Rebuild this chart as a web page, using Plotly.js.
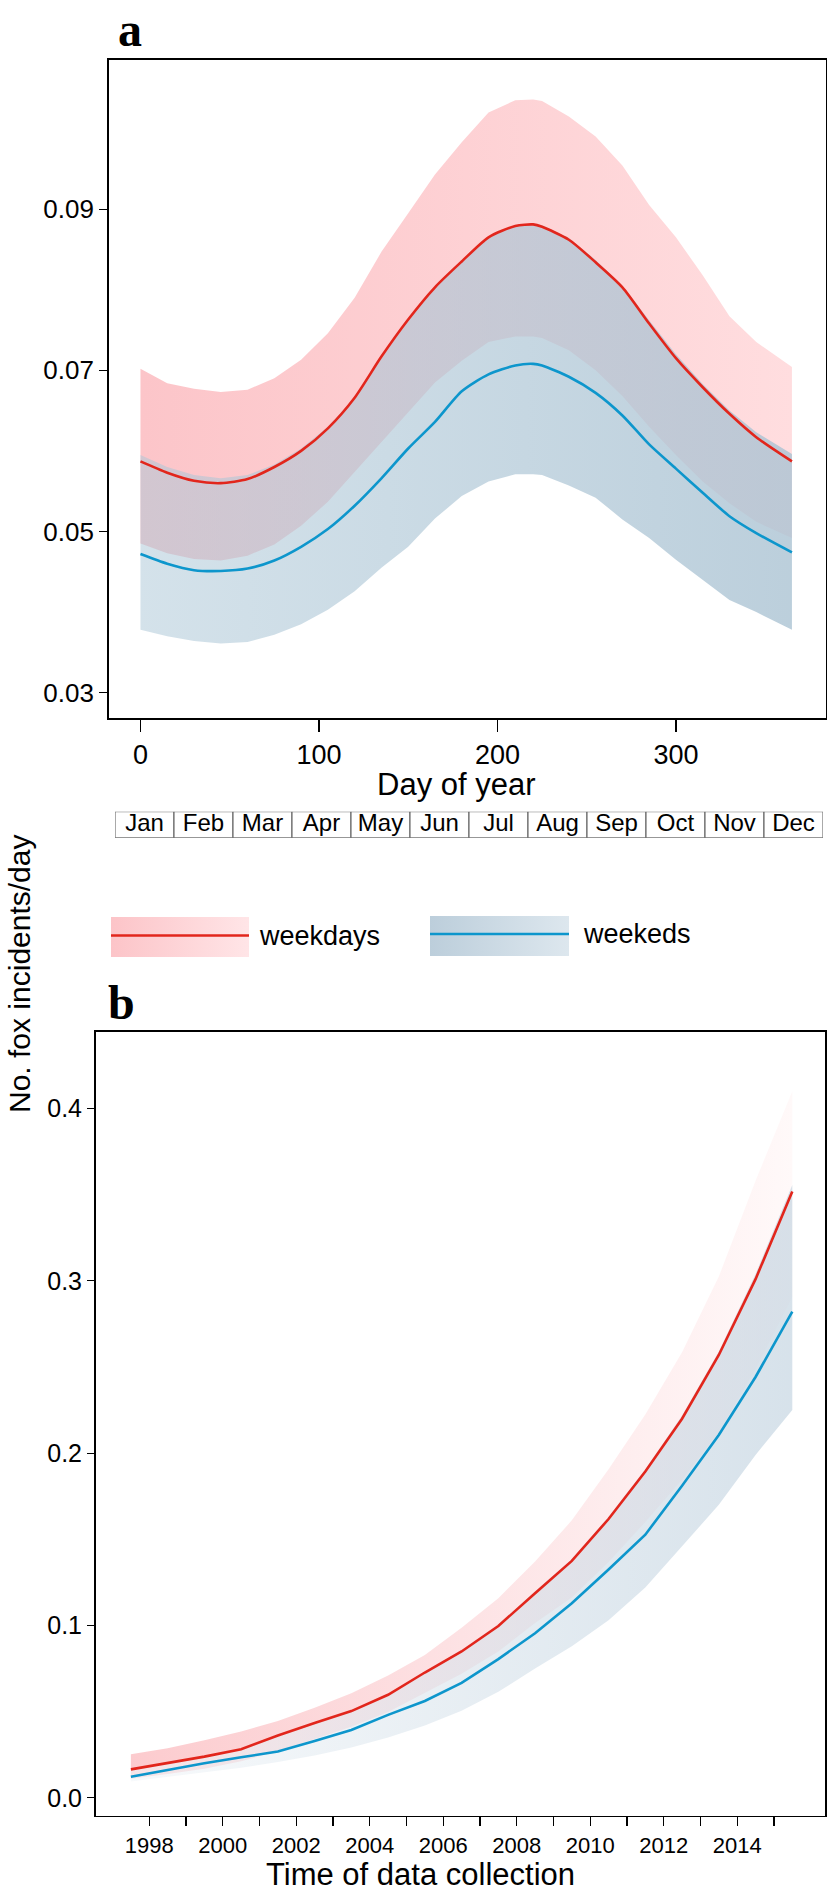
<!DOCTYPE html>
<html>
<head>
<meta charset="utf-8">
<script src="https://cdn.plot.ly/plotly-3.0.1.min.js"></script>
<style>html,body{margin:0;padding:0;background:#fff;}#chart{width:827px;height:1895px;}</style>
</head>
<body>
<div id="chart"></div>
<script>
// ---------- Panel a: seasonal pattern ----------
const days = [0,15,30,45,60,75,90,105,120,135,150,165,180,195,210,220,225,240,255,270,285,300,315,330,345,365];
const weekdaysMean  = [0.0587,0.0573,0.0563,0.0560,0.0565,0.0580,0.0600,0.0628,0.0666,0.0717,0.0763,0.0803,0.0835,0.0865,0.0879,0.0881,0.0878,0.0862,0.0834,0.0803,0.0758,0.0715,0.0679,0.0646,0.0617,0.0587];
const weekdaysUpper = [0.0702,0.0684,0.0677,0.0673,0.0676,0.0690,0.0713,0.0746,0.0790,0.0847,0.0895,0.0943,0.0983,0.1020,0.1035,0.1036,0.1034,0.1015,0.0990,0.0954,0.0905,0.0865,0.0818,0.0767,0.0735,0.0704];
const weekdaysLower = [0.0485,0.0473,0.0466,0.0464,0.0470,0.0484,0.0507,0.0537,0.0574,0.0612,0.0648,0.0685,0.0712,0.0735,0.0742,0.0742,0.0740,0.0725,0.0700,0.0668,0.0630,0.0595,0.0562,0.0535,0.0512,0.0492];
const weekedsMean   = [0.0472,0.0460,0.0452,0.0451,0.0454,0.0464,0.0481,0.0503,0.0532,0.0566,0.0603,0.0636,0.0674,0.0695,0.0706,0.0708,0.0706,0.0692,0.0672,0.0644,0.0608,0.0578,0.0548,0.0519,0.0498,0.0474];
const weekedsUpper  = [0.0595,0.0580,0.0570,0.0566,0.0570,0.0583,0.0603,0.0630,0.0666,0.0715,0.0762,0.0803,0.0835,0.0865,0.0880,0.0882,0.0880,0.0864,0.0837,0.0805,0.0762,0.0720,0.0683,0.0650,0.0623,0.0596];
const weekedsLower  = [0.0378,0.0370,0.0364,0.0361,0.0363,0.0372,0.0385,0.0403,0.0426,0.0455,0.0481,0.0516,0.0544,0.0562,0.0571,0.0571,0.0570,0.0557,0.0542,0.0515,0.0492,0.0465,0.0440,0.0415,0.0400,0.0378];

// ---------- Panel b: long-term trend ----------
const years = [1997.5,1998.5,1999.5,2000.5,2001.5,2002.5,2003.5,2004.5,2005.5,2006.5,2007.5,2008.5,2009.5,2010.5,2011.5,2012.5,2013.5,2014.5,2015.5];
const trendWeekdays      = [0.0165,0.0201,0.0239,0.0282,0.0361,0.0434,0.0503,0.0598,0.0727,0.0849,0.0997,0.1187,0.1375,0.1618,0.1893,0.2200,0.2570,0.3010,0.3518];
const trendWeekdaysUpper = [0.0252,0.0288,0.0334,0.0385,0.0445,0.0523,0.0607,0.0709,0.0829,0.0987,0.1158,0.1371,0.1610,0.1906,0.2225,0.2585,0.3025,0.3581,0.4100];
const trendWeekdaysLower = [0.0110,0.0138,0.0169,0.0212,0.0270,0.0340,0.0412,0.0498,0.0610,0.0720,0.0849,0.1015,0.1162,0.1369,0.1600,0.1846,0.2122,0.2488,0.2907];
const trendWeekeds       = [0.0122,0.0162,0.0200,0.0235,0.0268,0.0330,0.0393,0.0481,0.0562,0.0667,0.0805,0.0955,0.1129,0.1325,0.1527,0.1811,0.2105,0.2442,0.2821];
const trendWeekedsUpper  = [0.0168,0.0203,0.0241,0.0285,0.0358,0.0436,0.0510,0.0604,0.0733,0.0858,0.1005,0.1199,0.1385,0.1631,0.1907,0.2219,0.2590,0.3040,0.3556];
const trendWeekedsLower  = [0.0095,0.0120,0.0148,0.0175,0.0207,0.0245,0.0292,0.0350,0.0420,0.0505,0.0615,0.0750,0.0880,0.1030,0.1220,0.1460,0.1700,0.1990,0.2250];

// ---------- Labels ----------
const months = ['Jan','Feb','Mar','Apr','May','Jun','Jul','Aug','Sep','Oct','Nov','Dec'];
const dayTicks = [0,100,200,300];
const aTicks = [0.03,0.05,0.07,0.09];
const aTickText = ['0.03','0.05','0.07','0.09'];
const yearTicks = [1998,1999,2000,2001,2002,2003,2004,2005,2006,2007,2008,2009,2010,2011,2012,2013,2014,2015];
const yearTickText = ['1998','','2000','','2002','','2004','','2006','','2008','','2010','','2012','','2014',''];
const bTicks = [0,0.1,0.2,0.3,0.4];
const bTickText = ['0.0','0.1','0.2','0.3','0.4'];
const seriesNames = ['weekdays','weekeds'];
const yTitle = 'No. fox incidents/day';

const RED = '#e2261c', BLUE = '#0d96cc';
const SANS = 'Liberation Sans, Arial, Helvetica, sans-serif';
const SERIF = 'Liberation Serif, Times New Roman, serif';
const W = 827, H = 1895;
const px = v => v / W, py = v => 1 - v / H;

function band(x, up, lo, xa, ya, scale) {
  return {
    x: x.concat(x.slice().reverse()),
    y: up.concat(lo.slice().reverse()),
    xaxis: xa, yaxis: ya, type: 'scatter', mode: 'lines',
    fill: 'toself', line: {width: 0, shape: 'linear'},
    fillgradient: {type: 'horizontal', colorscale: scale},
    hoverinfo: 'skip'
  };
}
function line(x, y, xa, ya, color, smooth) {
  return {x: x, y: y, xaxis: xa, yaxis: ya, type: 'scatter', mode: 'lines',
    line: {color: color, width: 2.6, shape: smooth ? 'spline' : 'linear', smoothing: 0.7}, hoverinfo: 'skip'};
}

const traces = [
  band(days, weekdaysUpper, weekdaysLower, 'x', 'y', [[0,'rgb(252,197,201)'],[1,'rgb(255,221,223)']]),
  band(days, weekedsUpper, weekedsLower, 'x', 'y', [[0,'rgba(172,199,215,0.52)'],[0.5,'rgba(172,197,213,0.66)'],[1,'rgba(171,195,211,0.8)']]),
  line(days, weekdaysMean, 'x', 'y', RED, true),
  line(days, weekedsMean, 'x', 'y', BLUE, true),

  band(years, trendWeekdaysUpper, trendWeekdaysLower, 'x2', 'y2', [[0,'rgb(252,203,206)'],[0.5,'rgb(253,226,228)'],[1,'rgb(255,249,249)']]),
  band(years, trendWeekedsUpper, trendWeekedsLower, 'x2', 'y2', [[0,'rgba(242,246,249,0.6)'],[1,'rgba(190,208,222,0.62)']]),
  line(years, trendWeekdays, 'x2', 'y2', RED, false),
  line(years, trendWeekeds, 'x2', 'y2', BLUE, false),

  // month strip
  {type: 'bar', x: months, y: months.map(() => 1), xaxis: 'x3', yaxis: 'y3', width: 1,
   marker: {color: '#ffffff', line: {color: '#555', width: 1}}, hoverinfo: 'skip'},
  {type: 'scatter', mode: 'text', x: months, y: months.map(() => 0.5), text: months, xaxis: 'x3', yaxis: 'y3',
   textfont: {family: SANS, size: 24, color: '#000'}, hoverinfo: 'skip'},

  // legend swatches (pixel overlay axis)
  {type: 'scatter', mode: 'lines', xaxis: 'x4', yaxis: 'y4', x: [111,249,249,111], y: [917,917,957,957],
   fill: 'toself', line: {width: 0}, fillgradient: {type: 'horizontal', colorscale: [[0,'rgb(252,196,200)'],[1,'rgb(255,229,231)']]}, hoverinfo: 'skip'},
  {type: 'scatter', mode: 'lines', xaxis: 'x4', yaxis: 'y4', x: [111,249], y: [935.5,935.5], line: {color: RED, width: 2.6}, hoverinfo: 'skip'},
  {type: 'scatter', mode: 'lines', xaxis: 'x4', yaxis: 'y4', x: [430,569,569,430], y: [916,916,956,956],
   fill: 'toself', line: {width: 0}, fillgradient: {type: 'horizontal', colorscale: [[0,'rgb(188,206,219)'],[1,'rgb(221,231,238)']]}, hoverinfo: 'skip'},
  {type: 'scatter', mode: 'lines', xaxis: 'x4', yaxis: 'y4', x: [430,569], y: [934,934], line: {color: BLUE, width: 2.6}, hoverinfo: 'skip'}
];

const axBase = {showline: true, mirror: true, linecolor: '#000', linewidth: 1.6, showgrid: false, zeroline: false,
  ticks: 'outside', tickcolor: '#000', tickwidth: 1.2, fixedrange: true};

const layout = {
  width: W, height: H, margin: {l: 0, r: 0, t: 0, b: 0},
  paper_bgcolor: '#ffffff', plot_bgcolor: 'rgba(0,0,0,0)', showlegend: false, bargap: 0,
  font: {family: SANS, color: '#000'},
  xaxis: Object.assign({}, axBase, {domain: [px(108.7), px(825.5)], range: [-17.8, 383.8], anchor: 'y',
    tickvals: dayTicks, ticklen: 12, tickfont: {size: 27, family: SANS}}),
  yaxis: Object.assign({}, axBase, {domain: [py(718), py(60)], range: [0.02686, 0.1085], anchor: 'x',
    tickvals: aTicks, ticktext: aTickText, ticklen: 8, tickfont: {size: 26, family: SANS}}),
  xaxis2: Object.assign({}, axBase, {domain: [px(95.6), px(825)], range: [1996.54, 2016.39], anchor: 'y2',
    tickvals: yearTicks, ticktext: yearTickText, ticklen: 9, tickfont: {size: 22, family: SANS}}),
  yaxis2: Object.assign({}, axBase, {domain: [py(1815.7), py(1031.7)], range: [-0.0104, 0.4446], anchor: 'x2',
    tickvals: bTicks, ticktext: bTickText, ticklen: 7, tickfont: {size: 25, family: SANS}}),
  xaxis3: {domain: [px(115), px(823)], range: [-0.5, 11.5], type: 'category', visible: false, anchor: 'y3', fixedrange: true},
  yaxis3: {domain: [py(837.7), py(811.7)], range: [0, 1], visible: false, anchor: 'x3', fixedrange: true},
  xaxis4: {domain: [0, 1], range: [0, W], visible: false, anchor: 'y4', fixedrange: true},
  yaxis4: {domain: [0, 1], range: [H, 0], visible: false, anchor: 'x4', fixedrange: true},
  annotations: [
    {text: '<b>a</b>', xref: 'paper', yref: 'paper', x: px(116), y: py(29), xanchor: 'left', yanchor: 'middle', showarrow: false,
     font: {family: SERIF, size: 48, color: '#000'}},
    {text: '<b>b</b>', xref: 'paper', yref: 'paper', x: px(106), y: py(1003), xanchor: 'left', yanchor: 'middle', showarrow: false,
     font: {family: SERIF, size: 48, color: '#000'}},
    {text: 'Day of year', xref: 'paper', yref: 'paper', x: px(456), y: py(785), xanchor: 'center', yanchor: 'middle', showarrow: false,
     font: {family: SANS, size: 31, color: '#000'}},
    {text: 'Time of data collection', xref: 'paper', yref: 'paper', x: px(420), y: py(1874), xanchor: 'center', yanchor: 'middle', showarrow: false,
     font: {family: SANS, size: 31, color: '#000'}},
    {text: yTitle, xref: 'paper', yref: 'paper', x: px(19), y: py(974), xanchor: 'center', yanchor: 'middle', textangle: -90, showarrow: false,
     font: {family: SANS, size: 30, color: '#000'}},
    {text: seriesNames[0], xref: 'paper', yref: 'paper', x: px(257), y: py(936), xanchor: 'left', yanchor: 'middle', showarrow: false,
     font: {family: SANS, size: 27, color: '#000'}},
    {text: seriesNames[1], xref: 'paper', yref: 'paper', x: px(581), y: py(934), xanchor: 'left', yanchor: 'middle', showarrow: false,
     font: {family: SANS, size: 27, color: '#000'}}
  ]
};

Plotly.newPlot('chart', traces, layout, {staticPlot: true, displayModeBar: false});
</script>
</body>
</html>
